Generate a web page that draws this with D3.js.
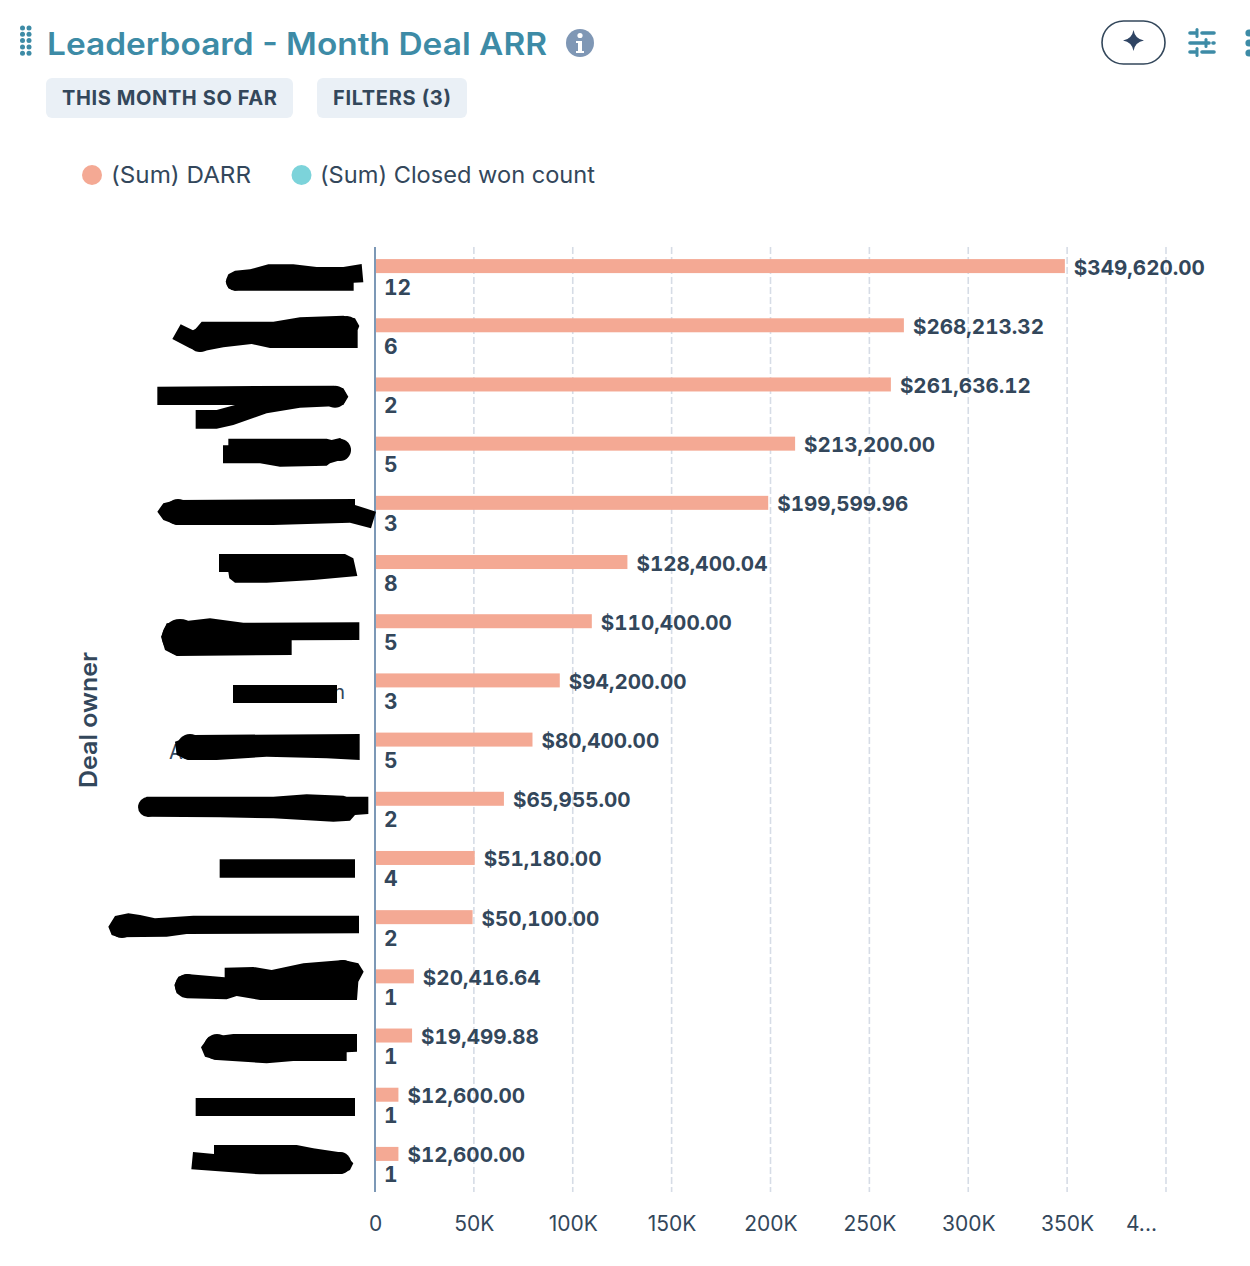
<!DOCTYPE html>
<html><head><meta charset="utf-8">
<script src="https://cdn.jsdelivr.net/npm/d3@7"></script>
<style>
html,body{margin:0;padding:0;background:#fff;overflow:hidden}
text{font-family:Inter,"Open Sans",sans-serif}
text.d,text.n{font-variant-numeric:tabular-nums}
</style></head><body><svg id="c" width="1250" height="1266"></svg>
<script>
const ownerRanks = d3.range(1,17).map(String);
const darr = [349620.00,268213.32,261636.12,213200.00,199599.96,128400.04,110400.00,94200.00,80400.00,65955.00,51180.00,50100.00,20416.64,19499.88,12600.00,12600.00];
const closedWon = [12,6,2,5,3,8,5,3,5,2,4,2,1,1,1,1];
const xTicks = [0,50000,100000,150000,200000,250000,300000,350000,400000];
const xTickLabels = ["0","50K","100K","150K","200K","250K","300K","350K","4..."];
const legendLabels = ["(Sum) DARR","(Sum) Closed won count"];
const chipLabels = ["THIS MONTH SO FAR","FILTERS (3)"];

const INK="#33475b", TITLE="#3d8ba6", BAR="#f4a994", TEAL="#7cd3da", AXIS="#7c98b6", GRID="#d6dce6", CHIP="#eaf0f6";
const svg=d3.select("#c");
const x=d3.scaleLinear().domain([0,400000]).range([375,1166]);
const y=d3.scaleBand().domain(ownerRanks).range([246.5,1193.5]);
const money=d3.format("$,.2f");

// header
const dots=svg.append("g").attr("fill",TITLE);
[0,1].forEach(c=>d3.range(5).forEach(r=>dots.append("circle").attr("cx",22.5+c*6.5).attr("cy",28+r*6.3).attr("r",2.5)));
svg.append("text").attr("x",47).attr("y",55).attr("font-size",31).attr("font-weight",600).attr("fill",TITLE).attr("textLength",500).attr("lengthAdjust","spacingAndGlyphs").text("Leaderboard - Month Deal ARR");
svg.append("circle").attr("cx",580).attr("cy",43).attr("r",14).attr("fill","#7f97b5");
svg.append("circle").attr("cx",580).attr("cy",35.5).attr("r",2.6).attr("fill","#fff");
svg.append("path").attr("d","M576 41h6v10h2v2h-8v-2h2v-8h-2z").attr("fill","#fff");

const chips=[{x:46,w:247,tx:62,tw:215},{x:317,w:150,tx:333,tw:118}];
chips.forEach((c,i)=>{
  svg.append("rect").attr("x",c.x).attr("y",78).attr("width",c.w).attr("height",40).attr("rx",6).attr("fill",CHIP);
  svg.append("text").attr("x",c.tx).attr("y",105).attr("font-size",20).attr("font-weight",700).attr("fill",INK).attr("textLength",c.tw).attr("lengthAdjust","spacing").text(chipLabels[i]);
});

// top right controls
svg.append("rect").attr("x",1102).attr("y",21).attr("width",63).attr("height",43).attr("rx",21.5).attr("fill","#fff").attr("stroke",INK).attr("stroke-width",1.6);
svg.append("path").attr("d","M1133.5 30Q1135 39 1144 40.5Q1135 42 1133.5 51Q1132 42 1123 40.5Q1132 39 1133.5 30Z").attr("fill","#2f4463");
const sl=svg.append("g").attr("stroke",TITLE).attr("stroke-width",3.6).attr("stroke-linecap","round");
[[33,1190,1196,1202,1214,1197],[43,1190,1209,1213,1214,1206],[52,1190,1196,1202,1214,1197]].forEach(r=>{
  sl.append("line").attr("x1",r[1]).attr("x2",r[2]).attr("y1",r[0]).attr("y2",r[0]);
  sl.append("line").attr("x1",r[3]).attr("x2",r[4]).attr("y1",r[0]).attr("y2",r[0]);
  sl.append("line").attr("x1",r[5]).attr("x2",r[5]).attr("y1",r[0]-3.5).attr("y2",r[0]+3.5).attr("stroke-width",3);
});
[33,43,53].forEach(cy=>svg.append("circle").attr("cx",1249).attr("cy",cy).attr("r",3.6).attr("fill",TITLE));

// legend
const legend=[{cx:92,tx:111,tw:140,c:BAR},{cx:301.5,tx:320,tw:275,c:TEAL}];
legend.forEach((l,i)=>{
  svg.append("circle").attr("cx",l.cx).attr("cy",175).attr("r",10).attr("fill",l.c);
  svg.append("text").attr("x",l.tx).attr("y",183).attr("font-size",23).attr("fill",INK).attr("textLength",l.tw).attr("lengthAdjust","spacingAndGlyphs").text(legendLabels[i]);
});

// grid
svg.append("g").selectAll("line").data(xTicks.slice(1)).join("line")
  .attr("x1",d=>x(d)).attr("x2",d=>x(d)).attr("y1",247).attr("y2",1192)
  .attr("stroke",GRID).attr("stroke-width",1.6).attr("stroke-dasharray","7 3");

// x axis
const ax=svg.append("g").attr("transform","translate(0,1192)")
  .call(d3.axisBottom(x).tickValues(xTicks).tickSize(0).tickPadding(24).tickFormat((d,i)=>xTickLabels[i]));
ax.select(".domain").remove();
ax.selectAll("text").attr("font-size",21).attr("fill",INK).attr("font-family","Inter,'Open Sans',sans-serif")
  .attr("dx",(d,i)=>i===xTicks.length-1?-25:0);

// bars
const rows=ownerRanks.map((k,i)=>({k,v:darr[i],n:closedWon[i]}));
const g=svg.append("g");
const barEnd=d=>x(d.v)-1.5;
g.selectAll("rect.d").data(rows).join("rect").attr("class","d")
  .attr("x",x(0)).attr("y",d=>y(d.k)+y.bandwidth()/2-17).attr("width",d=>barEnd(d)-x(0)).attr("height",14).attr("fill",BAR);
g.selectAll("rect.n").data(rows).join("rect").attr("class","n")
  .attr("x",x(0)).attr("y",d=>y(d.k)+y.bandwidth()/2+3).attr("width",d=>x(d.n)-x(0)).attr("height",14).attr("fill",TEAL);
g.selectAll("text.d").data(rows).join("text").attr("class","d")
  .attr("x",d=>barEnd(d)+9).attr("y",d=>y(d.k)+y.bandwidth()/2-1.5)
  .attr("font-size",20.6).attr("font-weight",700).attr("fill",INK).text(d=>money(d.v));
g.selectAll("text.n").data(rows).join("text").attr("class","n")
  .attr("x",x(0)+9).attr("y",d=>y(d.k)+y.bandwidth()/2+18.5)
  .attr("font-size",21).attr("font-weight",700).attr("fill",INK).text(d=>d.n);

// category axis line and title
svg.append("line").attr("x1",375).attr("x2",375).attr("y1",247).attr("y2",1192).attr("stroke",AXIS).attr("stroke-width",2);
svg.append("text").attr("transform","translate(97,720) rotate(-90)").attr("text-anchor","middle")
  .attr("font-size",24).attr("font-weight",600).attr("fill",INK).attr("textLength",136).attr("lengthAdjust","spacingAndGlyphs").text("Deal owner");

// legible fragments left around the redactions in the source
svg.append("text").attr("x",345).attr("y",699).attr("text-anchor","end").attr("font-size",20).attr("fill",INK).text("n");
svg.append("text").attr("x",169).attr("y",759).attr("font-size",20).attr("fill",INK).text("A");

// redaction marker strokes (names are blacked out in the source image)
const redactions=[
 [240,[[905,72],[910,127],[881,128],[881,152],[525,152],[505,145],[497,125],[505,103],[525,92],[570,88],[625,73],[700,73],[770,81],[850,81]]],
 [240,[[362,253],[402,272],[425,245],[640,245],[720,232],[850,227],[885,235],[898,258],[893,270],[893,324],[630,324],[575,312],[490,322],[420,335],[390,325],[337,297]]],
 [240,[[292,440],[820,437],[850,445],[865,470],[850,495],[820,499],[720,503],[620,520],[520,555],[470,566],[407,566],[407,510],[470,510],[525,495],[292,495]]],
 [240,[[505,596],[800,596],[815,600],[840,594],[865,610],[872,630],[860,655],[810,670],[800,677],[660,680],[600,670],[489,670],[489,616],[505,616]]],
 [240,[[885,777],[885,795],[948,815],[933,865],[870,848],[640,855],[350,855],[310,840],[292,815],[310,790],[350,780]]],
 [530,[[477,72],[855,72],[880,85],[892,138],[760,150],[620,158],[525,158],[508,145],[505,126],[477,126]]],
 [530,[[320,280],[450,265],[550,278],[898,277],[898,330],[695,331],[695,375],[350,378],[315,360],[303,320]]],
 [530,[[519,465],[831,465],[831,519],[519,519]]],
 [530,[[345,635],[400,615],[899,612],[899,690],[800,685],[620,680],[470,690],[385,690],[350,675]]],
 [530,[[260,800],[640,800],[740,793],[850,797],[860,800],[925,800],[925,852],[885,855],[870,872],[820,875],[640,865],[480,862],[265,860],[240,845],[235,825]]],
 [830,[[479,88],[885,88],[885,143],[479,143]]],
 [830,[[145,290],[165,258],[205,250],[240,255],[285,265],[400,257],[897,257],[897,310],[380,312],[320,320],[175,322],[155,315]]],
 [830,[[494,413],[580,411],[635,420],[730,400],[850,390],[895,400],[911,425],[895,455],[891,510],[600,510],[530,498],[500,508],[380,505],[350,490],[343,465],[355,440],[380,432],[494,442]]],
 [830,[[445,622],[520,612],[891,612],[891,665],[860,667],[860,693],[700,693],[620,700],[470,690],[435,680],[423,652]]],
 [830,[[407,804],[885,804],[885,858],[407,858]]],
 [830,[[462,945],[710,945],[760,955],[850,968],[880,1000],[870,1020],[845,1032],[600,1033],[394,1018],[399,966],[462,972]]]
];
const redactionCaps=[[235,281.7,9],[347,326,10],[200,340,12],[335,396.7,11],[340,450,11],[178,512,13],[180,637,18],[190,747,13],[148,807,10],[122,927,11],[343,972,12],[187,986,12],[217,1047,13],[340,1163,11]];
const red=svg.append("g").attr("fill","#000");
red.selectAll("path").data(redactions).join("path")
  .attr("d",([o,p])=>"M"+p.map(q=>[60+q[0]/3,o+q[1]/3].join(",")).join("L")+"Z");
red.selectAll("circle").data(redactionCaps).join("circle").attr("cx",d=>d[0]).attr("cy",d=>d[1]).attr("r",d=>d[2]);
</script></body></html>
